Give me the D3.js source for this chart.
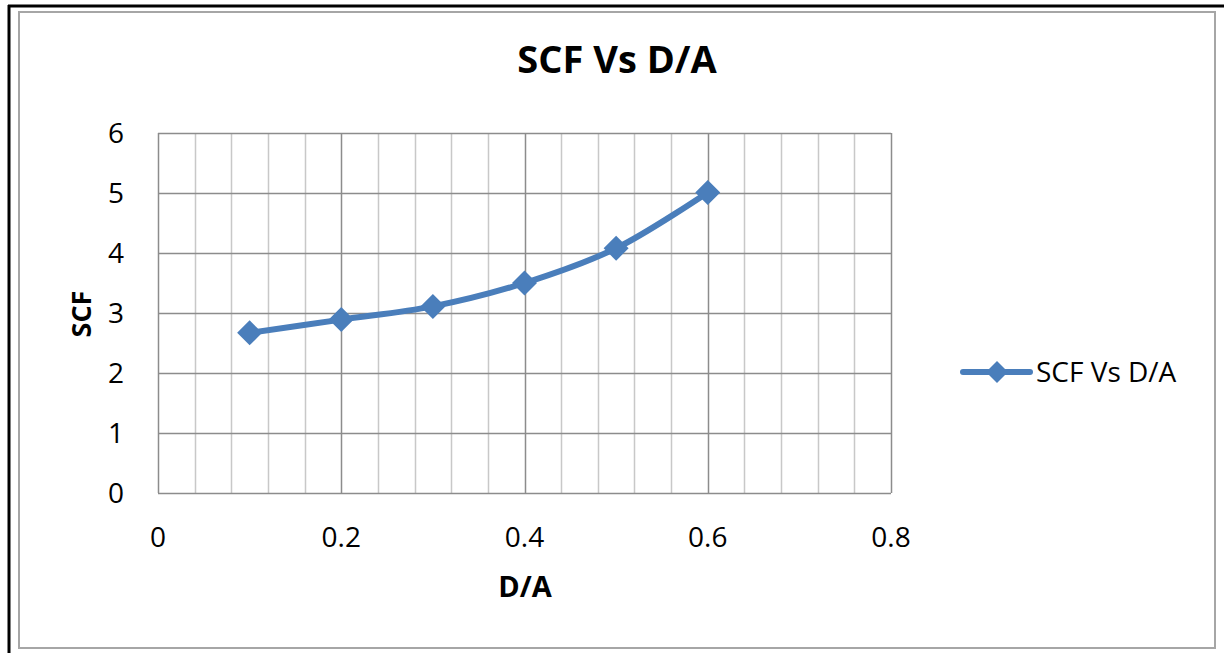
<!DOCTYPE html>
<html>
<head>
<meta charset="utf-8">
<script src="https://cdn.jsdelivr.net/npm/d3@7"></script>
<style>
  body { margin: 0; background: #fff; }
  text { font-family: "Open Sans", sans-serif; fill: #000; }
</style>
</head>
<body>
<div id="chart"></div>
<script>
// Data
const daValues = [0.1, 0.2, 0.3, 0.4, 0.5, 0.6];
const scfValues = [2.67, 2.89, 3.11, 3.5, 4.08, 5.01];
const xTicks = [0, 0.2, 0.4, 0.6, 0.8];
const yTicks = [0, 1, 2, 3, 4, 5, 6];
const seriesName = 'SCF Vs D/A';

const width = 1225;
const height = 653;
const blue = '#4a7ebb';

const svg = d3.select('#chart')
    .append('svg')
    .attr('width', width)
    .attr('height', height);

// outer frame: black top/left, gray chart border
svg.append('line')
    .attr('x1', 8).attr('x2', 1224).attr('y1', 6).attr('y2', 6)
    .attr('stroke', '#000').attr('stroke-width', 3);
svg.append('line')
    .attr('x1', 9).attr('x2', 9).attr('y1', 5).attr('y2', 653)
    .attr('stroke', '#000').attr('stroke-width', 3);
svg.append('rect')
    .attr('x', 19).attr('y', 12)
    .attr('width', 1196).attr('height', 636)
    .attr('fill', '#fff')
    .attr('stroke', '#a6a6a6').attr('stroke-width', 2);

// plot area
const plot = { left: 158, top: 133, right: 891, bottom: 493 };

const x = d3.scaleLinear().domain([0, 0.8]).range([plot.left, plot.right]);
const y = d3.scaleLinear().domain([0, 6]).range([plot.bottom, plot.top]);

const g = svg.append('g');

// minor vertical gridlines
const minorX = d3.range(0, 21).map(i => i * 0.04);
g.selectAll('.minor-x')
    .data(minorX.filter((d, i) => i % 5 !== 0))
    .enter()
    .append('line')
    .attr('class', 'minor-x')
    .attr('x1', d => Math.round(x(d)) + 0.5)
    .attr('x2', d => Math.round(x(d)) + 0.5)
    .attr('y1', plot.top)
    .attr('y2', plot.bottom)
    .attr('stroke', '#c8c8c8')
    .attr('stroke-width', 1.5);

// major vertical gridlines
g.selectAll('.major-x')
    .data(xTicks)
    .enter()
    .append('line')
    .attr('class', 'major-x')
    .attr('x1', d => Math.round(x(d)) + 0.5)
    .attr('x2', d => Math.round(x(d)) + 0.5)
    .attr('y1', plot.top)
    .attr('y2', plot.bottom)
    .attr('stroke', '#8c8c8c')
    .attr('stroke-width', 1.5);

// horizontal gridlines
g.selectAll('.major-y')
    .data(yTicks)
    .enter()
    .append('line')
    .attr('class', 'major-y')
    .attr('x1', plot.left)
    .attr('x2', plot.right)
    .attr('y1', d => Math.round(y(d)) + 0.5)
    .attr('y2', d => Math.round(y(d)) + 0.5)
    .attr('stroke', '#8c8c8c')
    .attr('stroke-width', 1.5);

// tick labels
g.selectAll('.ylab')
    .data(yTicks)
    .enter()
    .append('text')
    .attr('class', 'ylab')
    .attr('x', 124)
    .attr('y', d => y(d) + 10)
    .attr('text-anchor', 'end')
    .attr('font-size', 28)
    .text(d => d);

g.selectAll('.xlab')
    .data(xTicks)
    .enter()
    .append('text')
    .attr('class', 'xlab')
    .attr('x', d => x(d))
    .attr('y', 547)
    .attr('text-anchor', 'middle')
    .attr('font-size', 28)
    .text(d => d);

// titles
svg.append('text')
    .attr('x', 617)
    .attr('y', 73)
    .attr('text-anchor', 'middle')
    .attr('font-size', 38)
    .attr('font-weight', 'bold')
    .text('SCF Vs D/A');

svg.append('text')
    .attr('x', 525)
    .attr('y', 597)
    .attr('text-anchor', 'middle')
    .attr('font-size', 29)
    .attr('font-weight', 'bold')
    .text('D/A');

svg.append('text')
    .attr('transform', 'translate(91,314) rotate(-90)')
    .attr('text-anchor', 'middle')
    .attr('font-size', 27)
    .attr('font-weight', 'bold')
    .text('SCF');

// series line
const data = daValues.map((d, i) => ({ x: d, y: scfValues[i] }));

const line = d3.line()
    .x(d => x(d.x))
    .y(d => y(d.y))
    .curve(d3.curveCatmullRom.alpha(0.5));

g.append('path')
    .datum(data)
    .attr('d', line)
    .attr('fill', 'none')
    .attr('stroke', blue)
    .attr('stroke-width', 6)
    .attr('stroke-linecap', 'round');

const diamond = r => `M0,${-r}L${r},0L0,${r}L${-r},0Z`;

g.selectAll('.marker')
    .data(data)
    .enter()
    .append('path')
    .attr('class', 'marker')
    .attr('transform', d => `translate(${x(d.x)},${y(d.y)})`)
    .attr('d', diamond(12.5))
    .attr('fill', blue);

// legend
const legend = svg.append('g');
legend.append('line')
    .attr('x1', 963).attr('x2', 1030)
    .attr('y1', 372).attr('y2', 372)
    .attr('stroke', blue)
    .attr('stroke-width', 6)
    .attr('stroke-linecap', 'round');
legend.append('path')
    .attr('transform', 'translate(997,372)')
    .attr('d', diamond(11))
    .attr('fill', blue);
legend.append('text')
    .attr('x', 1036)
    .attr('y', 382)
    .attr('font-size', 28)
    .text(seriesName);
</script>
</body>
</html>
